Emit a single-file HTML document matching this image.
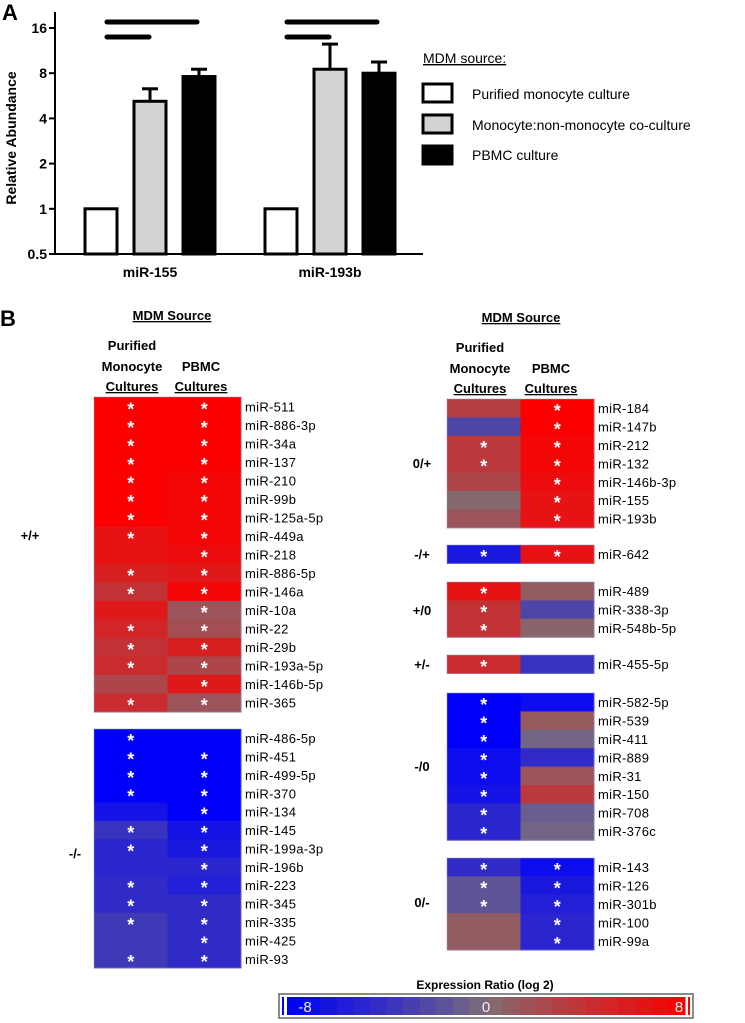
<!DOCTYPE html>
<html><head><meta charset="utf-8"><style>
html,body{margin:0;padding:0;background:#fff;}
svg{display:block;font-family:"Liberation Sans",sans-serif;}
</style></head><body>
<svg id="fig" width="745" height="1023" viewBox="0 0 745 1023" xmlns="http://www.w3.org/2000/svg">
<text x="2" y="20" font-size="22" font-weight="bold">A</text>
<text x="0" y="326" font-size="22" font-weight="bold">B</text>
<g id="barchart"></g>
<g id="legend">
<text x="423" y="63" font-size="14" text-decoration="underline">MDM source:</text>
<rect x="423" y="84" width="29" height="18" fill="#fff" stroke="#000" stroke-width="3"/>
<text x="472" y="99" font-size="14">Purified monocyte culture</text>
<rect x="423" y="115" width="29" height="18" fill="#d3d3d3" stroke="#000" stroke-width="3"/>
<text x="472" y="130" font-size="14">Monocyte:non-monocyte co-culture</text>
<rect x="423" y="146" width="29" height="18" fill="#000" stroke="#000" stroke-width="3"/>
<text x="472" y="160" font-size="14">PBMC culture</text>
</g>
<g font-size="13" font-weight="bold" text-anchor="middle">
<text x="172" y="320" text-decoration="underline">MDM Source</text>
<text x="132" y="350">Purified</text>
<text x="132" y="371">Monocyte</text>
<text x="132" y="391" text-decoration="underline">Cultures</text>
<text x="201" y="371">PBMC</text>
<text x="201" y="391" text-decoration="underline">Cultures</text>
<text x="521" y="322" text-decoration="underline">MDM Source</text>
<text x="480" y="352">Purified</text>
<text x="480" y="373">Monocyte</text>
<text x="480" y="393" text-decoration="underline">Cultures</text>
<text x="551" y="373">PBMC</text>
<text x="551" y="393" text-decoration="underline">Cultures</text>
</g>
<g id="heat"></g>
<g id="cbar"></g>
</svg>
<script>
// ---- Bar chart data ----
const barGroups = ["miR-155","miR-193b"];
const purifiedVals = [1,1];
const cocultureVals = [5.2,8.5];
const cocultureErr = [6.3,12.5];
const pbmcVals = [7.6,8.0];
const pbmcErr = [8.5,9.5];
const yTicks = [0.5,1,2,4,8,16];

// ---- Heatmap data ----
const blockTags = ["+/+","-/-","0/+","-/+","+/0","+/-","-/0","0/-"];
const leftUpNames = ["miR-511","miR-886-3p","miR-34a","miR-137","miR-210","miR-99b","miR-125a-5p","miR-449a","miR-218","miR-886-5p","miR-146a","miR-10a","miR-22","miR-29b","miR-193a-5p","miR-146b-5p","miR-365"];
const leftUpC1 = [8,8,8,8,8,8,8,6.5,6.5,5.5,4,6,5,4,4.5,2.5,4.5];
const leftUpC2 = [8,8,8,8,7.5,7.5,7.5,7.5,7,6,7.5,1.5,2,5.5,2.5,6,1.5];
const leftUpS1 = [1,1,1,1,1,1,1,1,0,1,1,0,1,1,1,0,1];
const leftUpS2 = [1,1,1,1,1,1,1,1,1,1,1,1,1,1,1,1,1];
const leftDnNames = ["miR-486-5p","miR-451","miR-499-5p","miR-370","miR-134","miR-145","miR-199a-3p","miR-196b","miR-223","miR-345","miR-335","miR-425","miR-93"];
const leftDnC1 = [-8,-8,-8,-8,-6.5,-4,-5,-5,-4.5,-4.5,-3.5,-3.5,-3.5];
const leftDnC2 = [-8,-8,-8,-8,-8,-6.5,-6,-5,-5.5,-4.5,-4.5,-4.5,-4.5];
const leftDnS1 = [1,1,1,1,0,1,1,0,1,1,1,0,1];
const leftDnS2 = [0,1,1,1,1,1,1,1,1,1,1,1,1];
const r1Names = ["miR-184","miR-147b","miR-212","miR-132","miR-146b-3p","miR-155","miR-193b"];
const r1C1 = [3,-2.5,3.5,3.5,2.5,0.3,1.5];
const r1C2 = [8,8,7.5,7.5,7,6.5,6.5];
const r1S1 = [0,0,1,1,0,0,0];
const r1S2 = [1,1,1,1,1,1,1];
const r2Names = ["miR-642"];
const r2C1 = [-6]; const r2C2 = [6.5]; const r2S1 = [1]; const r2S2 = [1];
const r3Names = ["miR-489","miR-338-3p","miR-548b-5p"];
const r3C1 = [6.5,4,4]; const r3C2 = [1,-2.5,0.5]; const r3S1 = [1,1,1]; const r3S2 = [0,0,0];
const r4Names = ["miR-455-5p"];
const r4C1 = [4.5]; const r4C2 = [-4]; const r4S1 = [1]; const r4S2 = [0];
const r5Names = ["miR-582-5p","miR-539","miR-411","miR-889","miR-31","miR-150","miR-708","miR-376c"];
const r5C1 = [-8,-8,-8,-7,-7,-6.5,-5,-5];
const r5C2 = [-7,1.2,-0.5,-4.5,1.5,3.5,-1,-0.5];
const r5S1 = [1,1,1,1,1,1,1,1]; const r5S2 = [0,0,0,0,0,0,0,0];
const r6Names = ["miR-143","miR-126","miR-301b","miR-100","miR-99a"];
const r6C1 = [-4.5,-1.5,-1.5,1,1];
const r6C2 = [-7,-6,-5.5,-5,-5];
const r6S1 = [1,1,1,0,0]; const r6S2 = [1,1,1,1,1];
const scaleTicks = ["-8","0","8"];

const NS="http://www.w3.org/2000/svg";
function mk(tag,attrs,parent){const e=document.createElementNS(NS,tag);for(const k in attrs)e.setAttribute(k,attrs[k]);parent.appendChild(e);return e;}

const bc=document.getElementById('barchart');
const yBase=254, yPer=45.2, axX=55;
function yS(v){return yBase - yPer*Math.log2(v/0.5);}
let ax=mk('line',{x1:axX,y1:12,x2:axX,y2:yBase,stroke:'#000','stroke-width':2},bc);


let xa=mk('line',{x1:axX-1,y1:yBase,x2:423,y2:yBase,stroke:'#000','stroke-width':2},bc);


yTicks.forEach(t=>{
  const y=yS(t);
  const tl=mk('line',{x1:axX-6,y1:y,x2:axX,y2:y,stroke:'#000','stroke-width':2},bc);
  
  
  const tx=mk('text',{x:axX-8,y:y+5,'font-size':14,'font-weight':'bold','text-anchor':'end'},bc);
  
  
  tx.textContent=String(t);
});
const yt=mk('text',{x:0,y:0,'font-size':14,'font-weight':'bold','text-anchor':'middle',transform:'translate(16,138) rotate(-90)'},bc);


yt.textContent='Relative Abundance';
const gStart=[85,265], bw=32, bstep=49;
barGroups.forEach((g,i)=>{
  const series=[[purifiedVals[i],null,'#fff'],[cocultureVals[i],cocultureErr[i],'#d3d3d3'],[pbmcVals[i],pbmcErr[i],'#000']];
  series.forEach((s,j)=>{
    const x=gStart[i]+j*bstep, y=yS(s[0]);
    if(s[1]){
      const el=mk('line',{x1:x+bw/2,y1:yS(s[1]),x2:x+bw/2,y2:y,stroke:'#000','stroke-width':3},bc);
      
      
      const ec=mk('line',{x1:x+bw/2-8,y1:yS(s[1]),x2:x+bw/2+8,y2:yS(s[1]),stroke:'#000','stroke-width':3},bc);
      
      
    }
    const r=mk('rect',{x:x,y:y,width:bw,height:yBase-y,fill:s[2],stroke:'#000','stroke-width':3},bc);
    
    
  });
  const l=mk('text',{x:gStart[i]+bstep+bw/2,y:277,'font-size':14,'font-weight':'bold','text-anchor':'middle'},bc);
  
  
  l.textContent=g;
  const s1=mk('line',{x1:gStart[i]+22,y1:22,x2:gStart[i]+112,y2:22,stroke:'#000','stroke-width':5,'stroke-linecap':'round'},bc);
  
  
  const s2=mk('line',{x1:gStart[i]+22,y1:37,x2:gStart[i]+64,y2:37,stroke:'#000','stroke-width':5,'stroke-linecap':'round'},bc);
  
  
});

function col(v){
  const g=[125,112,118];
  const t=Math.pow(Math.min(1,Math.abs(v)/8),0.85);
  const e=v>=0?[250,0,0]:[0,0,250];
  return 'rgb('+g.map((c,i)=>Math.round(c+(e[i]-c)*t)).join(',')+')';
}
const hm=document.getElementById('heat');
function block(names,c1,c2,s1,s2,x0,y0,rh,tag,tagX,tagY){
  const cw=73.5;
  names.forEach((n,i)=>{
    const y=y0+i*rh;
    [[c1,s1],[c2,s2]].forEach((c,j)=>{
      const r=mk('rect',{x:x0+j*cw,y:y,width:cw+0.5,height:rh+0.5,fill:col(c[0][i])},hm);
      
      
      if(c[1][i]){
        const st=mk('text',{x:x0+j*cw+cw/2,y:y+rh/2+9,'font-size':18,fill:'#fff','text-anchor':'middle','font-weight':'bold'},hm);
        
        
        st.textContent='*';
      }
    });
    const t=mk('text',{x:x0+2*cw+4,y:y+rh/2+5,'font-size':13,'letter-spacing':'0.3'},hm);
    
    
    t.textContent=n;
  });
  const b=mk('rect',{x:x0,y:y0,width:2*cw,height:rh*names.length,fill:'none',stroke:'rgba(150,150,200,0.5)','stroke-width':1},hm);
  
  
  const tg=mk('text',{x:tagX,y:tagY,'font-size':13,'font-weight':'bold','text-anchor':'middle'},hm);
  
  
  tg.textContent=tag;
}
block(leftUpNames,leftUpC1,leftUpC2,leftUpS1,leftUpS2,94,397,18.53,blockTags[0],30,540);
block(leftDnNames,leftDnC1,leftDnC2,leftDnS1,leftDnS2,94,729,18.38,blockTags[1],75,858);
block(r1Names,r1C1,r1C2,r1S1,r1S2,447,399,18.4,blockTags[2],422,468);
block(r2Names,r2C1,r2C2,r2S1,r2S2,447,545,18.4,blockTags[3],422,559);
block(r3Names,r3C1,r3C2,r3S1,r3S2,447,582,18.4,blockTags[4],422,615);
block(r4Names,r4C1,r4C2,r4S1,r4S2,447,655,18.4,blockTags[5],422,669);
block(r5Names,r5C1,r5C2,r5S1,r5S2,447,693,18.4,blockTags[6],422,771);
block(r6Names,r6C1,r6C2,r6S1,r6S2,447,858,18.4,blockTags[7],422,907);

const cb=document.getElementById('cbar');
const ct=mk('text',{x:485,y:989,'font-size':12,'font-weight':'bold','text-anchor':'middle'},cb);


ct.textContent='Expression Ratio (log 2)';
const cbx=279, cbw=414, cby=994, cbh=24;
const ob=mk('rect',{x:cbx,y:cby,width:cbw,height:cbh,fill:'#fff',stroke:'#666','stroke-width':1.5},cb);


const nseg=24, ix=cbx+8, iw=cbw-16;
for(let k=0;k<nseg;k++){
  const v=-8+16*(k+0.5)/nseg;
  const s=mk('rect',{x:ix+k*iw/nseg,y:cby+3,width:iw/nseg+0.5,height:cbh-6,fill:col(v)},cb);
  
  
}
[[cbx+3,'#00f'],[cbx+cbw-5,'#f00']].forEach(p=>{
  const e=mk('rect',{x:p[0],y:cby+3,width:2,height:cbh-6,fill:p[1]},cb);
  
  
});
const tickX=[ix+18, ix+iw/2, ix+iw-6];
scaleTicks.forEach((t,i)=>{
  const tx=mk('text',{x:tickX[i],y:cby+18,'font-size':15,fill:'#eee','text-anchor':'middle'},cb);
  
  
  tx.textContent=t;
});
</script>
</body></html>
